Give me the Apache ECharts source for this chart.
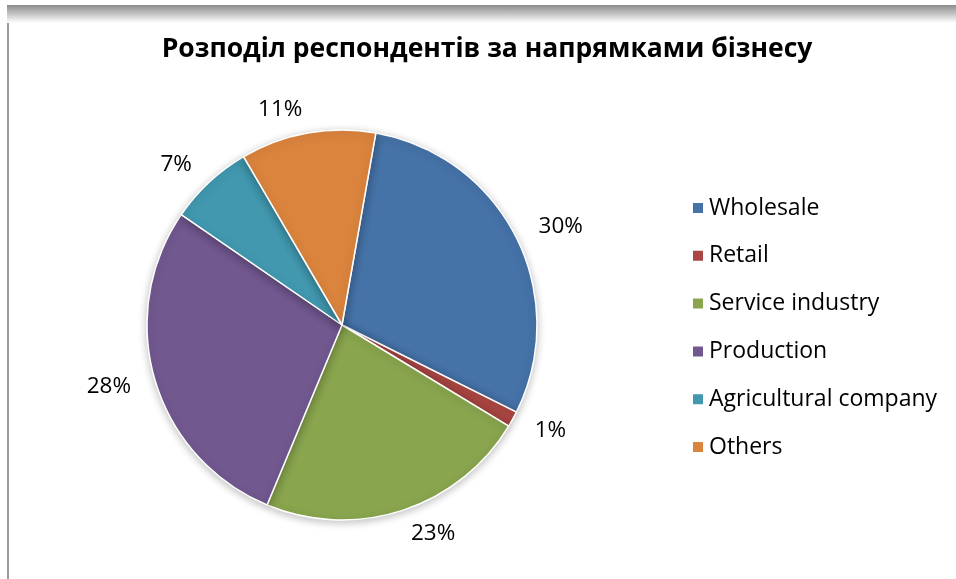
<!DOCTYPE html>
<html><head><meta charset="utf-8">
<script src="https://cdn.jsdelivr.net/npm/echarts@6/dist/echarts.min.js"></script>
<style>
html,body{margin:0;padding:0;background:#fff;width:956px;height:579px;overflow:hidden;}
#frame{position:absolute;left:7px;top:5px;width:949px;height:574px;border-left:2px solid #9a9a9a;box-sizing:border-box;}
#shade{position:absolute;left:7px;top:5px;width:949px;height:18px;background:linear-gradient(#8c8c8c,#ffffff);}
#chart{position:absolute;left:0;top:0;width:956px;height:579px;}
</style></head>
<body>
<div id="frame"></div><div id="shade"></div>
<div id="chart"></div>
<script>
const titleText = 'Розподіл респондентів за напрямками бізнесу';
const categories = ['Wholesale','Retail','Service industry','Production','Agricultural company','Others'];
const values = [29.6, 1.3, 22.6, 28.3, 7.0, 11.2];
const colors = ['#4572a7','#aa4643','#89a54e','#71588f','#4198af','#db843d'];

const chart = echarts.init(document.getElementById('chart'), null, {renderer:'canvas'});
chart.setOption({
  backgroundColor: 'transparent',
  animation: false,
  title: {
    text: titleText, left: 482, top: 31, textAlign: 'center',
    textStyle: {fontFamily: 'Open Sans', fontWeight: 'bold', fontSize: 26.5, color: '#000'}
  },
  legend: {
    orient: 'vertical', left: 686, top: 191, itemGap: 23.8,
    itemWidth: 12, itemHeight: 12, icon: 'rect',
    textStyle: {fontFamily: 'Open Sans', fontSize: 23, lineHeight: 24, color: '#000', padding:[0,0,0,0]},
    data: categories
  },
  series: [{
    type: 'pie', center: [342, 325], radius: [0, 195],
    startAngle: 80, clockwise: true, percentPrecision: 0,
    itemStyle: {borderColor: '#fff', borderWidth: 1.5, shadowBlur: 8, shadowColor: 'rgba(0,0,0,0.25)', shadowOffsetY: 2},
    label: {show: true, position: 'outside', formatter: '{d}%', fontFamily: 'Open Sans', fontSize: 22.5, color: '#000', distanceToLabelLine: 1},
    labelLine: {show: false, length: 24, length2: 0},
    emphasis: {disabled: true},
    data: categories.map((c, i) => ({name: c, value: values[i], itemStyle: {color: colors[i]}}))
  }]
});
</script>
</body></html>
